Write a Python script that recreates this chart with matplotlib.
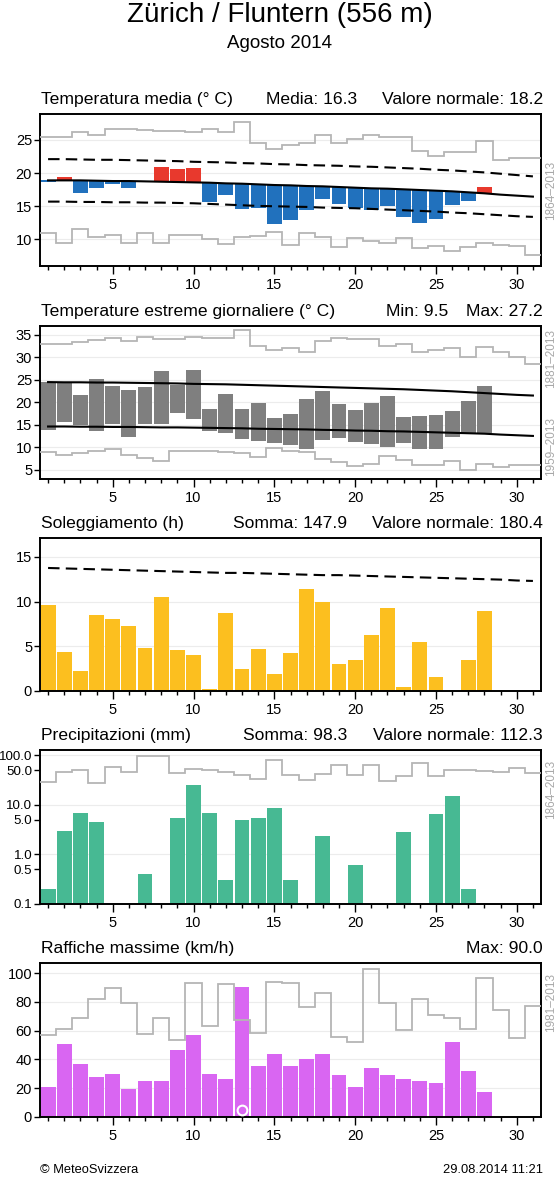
import numpy as np
import matplotlib.pyplot as plt

plt.rcParams['font.family'] = ['Liberation Sans', 'DejaVu Sans']

days = np.arange(1, 32)
obs_days = np.arange(1, 29)
edges = np.arange(0.5, 32, 1.0)

# Temperatura media (°C)
tmean = [18.7, 19.4, 16.95, 17.7, 18.4, 17.7, 18.75, 20.9, 20.6, 20.7, 15.7, 16.75, 14.6, 14.8,
         12.4, 13.0, 14.5, 16.1, 15.3, 14.7, 14.5, 15.1, 13.4, 12.5, 13.1, 15.2, 15.8, 17.9]
tmean_norm = [18.9, 18.9, 18.9, 18.85, 18.8, 18.8, 18.75, 18.7, 18.65, 18.6, 18.55, 18.45, 18.4, 18.3,
              18.2, 18.15, 18.05, 18.0, 17.9, 17.8, 17.7, 17.65, 17.55, 17.45, 17.35, 17.25, 17.1,
              16.95, 16.75, 16.6, 16.45]
tmean_hi = [22.1, 22.1, 22.05, 22.0, 22.0, 21.95, 21.9, 21.85, 21.8, 21.7, 21.65, 21.6, 21.5, 21.45,
            21.35, 21.3, 21.2, 21.15, 21.1, 21.0, 20.95, 20.85, 20.75, 20.65, 20.5, 20.4, 20.25,
            20.1, 19.9, 19.7, 19.5]
tmean_lo = [15.7, 15.7, 15.65, 15.65, 15.6, 15.6, 15.55, 15.55, 15.5, 15.45, 15.35, 15.25, 15.15, 15.05,
            15.0, 14.95, 14.9, 14.8, 14.75, 14.7, 14.6, 14.5, 14.4, 14.3, 14.2, 14.05, 13.95,
            13.8, 13.65, 13.5, 13.4]
tmean_recmax = [25.4, 25.4, 26.2, 25.8, 26.6, 26.6, 26.5, 26.4, 26.3, 26.2, 26.6, 26.2, 27.7, 24.5,
                23.6, 24.3, 24.6, 25.7, 24.6, 25.1, 25.7, 25.4, 25.4, 23.4, 22.6, 23.1, 23.1, 24.8,
                22.0, 22.2, 22.2]
tmean_recmin = [10.9, 9.5, 11.5, 10.4, 10.65, 9.5, 10.9, 9.5, 10.6, 10.6, 10.0, 9.3, 10.4, 10.5,
                11.15, 9.2, 11.0, 10.3, 8.8, 10.25, 9.8, 9.5, 10.15, 8.7, 9.0, 8.3, 8.9, 9.5,
                9.15, 9.0, 7.6]

# Temperature estreme giornaliere (°C)
tmax = [24.6, 24.2, 21.6, 25.2, 23.6, 22.75, 23.4, 27.0, 23.9, 27.2, 18.4, 21.8, 18.4, 19.9,
        16.4, 17.4, 20.7, 22.45, 19.6, 18.2, 19.9, 21.4, 16.8, 16.95, 17.2, 18.15, 20.3, 23.7]
tmin = [13.8, 15.55, 15.0, 13.7, 15.2, 12.2, 15.2, 15.2, 17.6, 16.3, 13.6, 13.1, 11.8, 11.4,
        10.9, 10.4, 9.5, 11.6, 12.1, 11.2, 10.65, 10.1, 10.9, 9.6, 9.6, 12.2, 13.25, 13.1]
tmax_norm = [24.5, 24.45, 24.45, 24.4, 24.4, 24.35, 24.3, 24.25, 24.2, 24.1, 24.05, 24.0, 23.9, 23.8,
             23.7, 23.6, 23.5, 23.4, 23.3, 23.2, 23.1, 23.0, 22.9, 22.75, 22.6, 22.45, 22.25,
             22.05, 21.85, 21.65, 21.5]
tmin_norm = [14.6, 14.6, 14.55, 14.55, 14.5, 14.5, 14.45, 14.4, 14.4, 14.35, 14.3, 14.25, 14.2, 14.1,
             14.05, 14.0, 13.95, 13.85, 13.8, 13.7, 13.65, 13.55, 13.5, 13.4, 13.3, 13.2, 13.1,
             13.0, 12.8, 12.65, 12.5]
tmax_rec = [32.9, 32.9, 33.5, 33.9, 34.35, 33.6, 34.5, 34.1, 34.1, 34.5, 34.4, 34.4, 36.0, 32.5,
            31.6, 32.1, 31.3, 33.6, 34.3, 34.1, 34.1, 32.6, 32.9, 31.2, 31.6, 32.2, 30.0, 32.3,
            31.1, 30.0, 28.5]
tmin_rec = [8.85, 8.35, 8.8, 9.2, 9.6, 8.2, 7.5, 7.0, 9.15, 9.15, 9.15, 8.85, 8.7, 7.75,
            9.8, 9.1, 8.85, 7.4, 6.8, 5.7, 6.25, 8.1, 7.05, 6.0, 5.95, 6.9, 4.85, 6.3,
            5.6, 6.0, 6.1]

# Soleggiamento (h)
sun = [9.6, 4.35, 2.25, 8.5, 8.0, 7.3, 4.8, 10.55, 4.6, 4.0, 0.2, 8.7, 2.5, 4.65,
       1.9, 4.3, 11.45, 9.9, 3.0, 3.5, 6.25, 9.25, 0.5, 5.45, 1.55, 0.0, 3.45, 8.9]
sun_norm = [13.75, 13.7, 13.65, 13.6, 13.55, 13.5, 13.45, 13.4, 13.35, 13.3, 13.25, 13.2, 13.2, 13.15,
            13.1, 13.05, 13.0, 12.95, 12.95, 12.9, 12.85, 12.8, 12.75, 12.7, 12.65, 12.6, 12.55,
            12.5, 12.45, 12.35, 12.3]

# Precipitazioni (mm)
prec = [0.2, 3.0, 6.7, 4.6, 0, 0, 0.4, 0, 5.4, 25.5, 6.9, 0.3, 4.9, 5.5,
        8.7, 0.3, 0, 2.4, 0, 0.6, 0, 0, 2.9, 0, 6.4, 15.0, 0.2, 0]
prec_rec = [28.8, 45.5, 51.6, 27.4, 58.5, 45.5, 97, 97, 44, 54, 51.6, 46, 39.5, 33, 80, 40.7,
            31.2, 42.7, 64.3, 40.7, 62.3, 30.6, 38.8, 68.5, 37.6, 50, 50, 48.4, 46, 54.9, 44]

# Raffiche massime (km/h)
gust = [21.1, 50.6, 36.5, 27.9, 30.2, 19.2, 24.8, 24.8, 46.8, 56.9, 29.7, 26.7, 90.0, 35.6,
        43.8, 35.6, 40.3, 44.0, 29.3, 20.6, 34.0, 29.0, 26.2, 25.1, 23.9, 52.2, 32.1, 17.6]
gust_rec = [57.1, 60.9, 69.1, 81.7, 89.9, 79.4, 57.8, 68.9, 53.6, 93.0, 63.0, 92.3, 67.7, 58.3,
            93.7, 93.0, 76.1, 86.0, 55.5, 52.0, 103.0, 78.9, 60.7, 82.2, 70.7, 69.1, 60.9, 96.5,
            74.0, 55.0, 77.0]
gust_mark_day = 13
gust_mark_y = 5

W, H = 559, 1178
fig = plt.figure(figsize=(W / 100, H / 100), dpi=100)

GRAY = '#b5b5b5'
LABEL_GRAY = '#a8a8a8'
BW = 0.92


def add_panel(top, bottom):
    return fig.add_axes([40 / W, 1 - bottom / H, (541 - 40) / W, (bottom - top) / H])


def style(ax, ylim, yticks, ylabels=None, ysize=10.5):
    ax.set_xlim(0.5, 31.5)
    ax.set_ylim(*ylim)
    ax.set_xticks([5, 10, 15, 20, 25, 30])
    ax.set_yticks(yticks)
    if ylabels is not None:
        ax.set_yticklabels(ylabels)
    ax.set_xticks(days, minor=True)
    ax.yaxis.set_minor_locator(plt.NullLocator())
    ax.tick_params(axis='x', which='major', length=5.5, width=1.0, labelsize=10.5, pad=3)
    ax.tick_params(axis='x', which='minor', length=3, width=1.0)
    ax.tick_params(axis='y', which='major', length=4.5, width=1.0, labelsize=ysize, pad=1.2)
    for s in ax.spines.values():
        s.set_linewidth(1.4)
    ax.grid(axis='y', which='major', color='#ececec', lw=0.8)
    ax.set_axisbelow(True)


def panel_text(top, left_txt, mid_txt=None, mid_x=None, right_txt=None):
    y = 1 - (top - 7) / H
    fig.text(41 / W, y, left_txt, ha='left', va='bottom', fontsize=12.6)
    if mid_txt:
        fig.text(mid_x / W, y, mid_txt, ha='right', va='bottom', fontsize=12.6)
    if right_txt:
        fig.text(543 / W, y, right_txt, ha='right', va='bottom', fontsize=12.6)


def side_label(yc, txt):
    fig.text(551 / W, 1 - yc / H, txt, rotation=90, ha='center', va='center',
             color=LABEL_GRAY, fontsize=8.5)


fig.text(0.5, 1 - 15 / H, 'Zürich / Fluntern (556 m)', ha='center', va='center', fontsize=20)
fig.text(0.5, 1 - 44 / H, 'Agosto 2014', ha='center', va='center', fontsize=13.5)

# --- Panel 1: temperatura media
ax1 = add_panel(114, 266)
norm_obs = np.array(tmean_norm[:len(tmean)])
anom = np.array(tmean) - norm_obs
cols = np.where(anom >= 0, '#e8392d', '#2171bd')
ax1.bar(obs_days, anom, bottom=norm_obs, width=BW, color=cols, zorder=2)
ax1.stairs(tmean_recmax, edges, baseline=None, color=GRAY, lw=1.3, zorder=3)
ax1.stairs(tmean_recmin, edges, baseline=None, color=GRAY, lw=1.3, zorder=3)
ax1.plot(days, tmean_hi, color='black', lw=1.5, dashes=(5.5, 3), zorder=4)
ax1.plot(days, tmean_lo, color='black', lw=1.5, dashes=(5.5, 3), zorder=4)
ax1.plot(days, tmean_norm, color='black', lw=1.5, zorder=4)
style(ax1, (6.0, 28.9), [10, 15, 20, 25])
panel_text(114, 'Temperatura media (° C)', 'Media: 16.3', 357, 'Valore normale: 18.2')
side_label(190, '1864–2013')

# --- Panel 2: temperature estreme
ax2 = add_panel(326, 479)
ax2.bar(obs_days, np.array(tmax) - np.array(tmin), bottom=tmin, width=BW, color='#7f7f7f', zorder=2)
ax2.stairs(tmax_rec, edges, baseline=None, color=GRAY, lw=1.3, zorder=3)
ax2.stairs(tmin_rec, edges, baseline=None, color=GRAY, lw=1.3, zorder=3)
ax2.plot(days, tmax_norm, color='black', lw=1.5, zorder=4)
ax2.plot(days, tmin_norm, color='black', lw=1.5, zorder=4)
style(ax2, (2.9, 37.0), [5, 10, 15, 20, 25, 30, 35])
panel_text(326, 'Temperature estreme giornaliere (° C)', 'Min: 9.5', 448, 'Max: 27.2')
side_label(358, '1881–2013')
side_label(447, '1959–2013')

# --- Panel 3: soleggiamento
ax3 = add_panel(538, 691)
ax3.bar(obs_days, sun, width=BW, color='#fcbf1f', zorder=2)
ax3.plot(days, sun_norm, color='black', lw=1.5, dashes=(5.5, 3), zorder=4)
style(ax3, (0, 17.1), [0, 5, 10, 15])
panel_text(538, 'Soleggiamento (h)', 'Somma: 147.9', 347, 'Valore normale: 180.4')

# --- Panel 4: precipitazioni
ax4 = add_panel(750, 904)
ax4.set_yscale('log')
p = np.array(prec, dtype=float)
wet = p > 0
ax4.bar(obs_days[wet], p[wet] - 0.1, bottom=0.1, width=BW, color='#47b993', zorder=2)
ax4.stairs(prec_rec, edges, baseline=None, color=GRAY, lw=1.3, zorder=3)
style(ax4, (0.1, 128), [0.1, 0.5, 1.0, 5.0, 10.0, 50.0, 100.0],
      ['0.1', '0.5', '1.0', '5.0', '10.0', '50.0', '100.0'], ysize=9.6)
ax4.grid(False)
for g in [1.0, 10.0, 100.0]:
    ax4.axhline(g, color='#ececec', lw=0.8, zorder=0)
panel_text(750, 'Precipitazioni (mm)', 'Somma: 98.3', 347, 'Valore normale: 112.3')
side_label(789, '1864–2013')

# --- Panel 5: raffiche
ax5 = add_panel(963, 1117)
ax5.bar(obs_days, gust, width=BW, color='#d966f2', zorder=2)
ax5.stairs(gust_rec, edges, baseline=None, color=GRAY, lw=1.3, zorder=3)
ax5.plot([gust_mark_day], [gust_mark_y], 'o', ms=7, mfc='none', mec='white', mew=1.5, zorder=5)
style(ax5, (0, 107), [0, 20, 40, 60, 80, 100])
panel_text(963, 'Raffiche massime (km/h)', right_txt='Max: 90.0')
side_label(1003, '1981–2013')

fig.text(40 / W, 1 - 1170 / H, '© MeteoSvizzera', ha='left', va='center', fontsize=9.3)
fig.text(543 / W, 1 - 1170 / H, '29.08.2014 11:21', ha='right', va='center', fontsize=9.3)

fig.savefig('out.png', dpi=100)
